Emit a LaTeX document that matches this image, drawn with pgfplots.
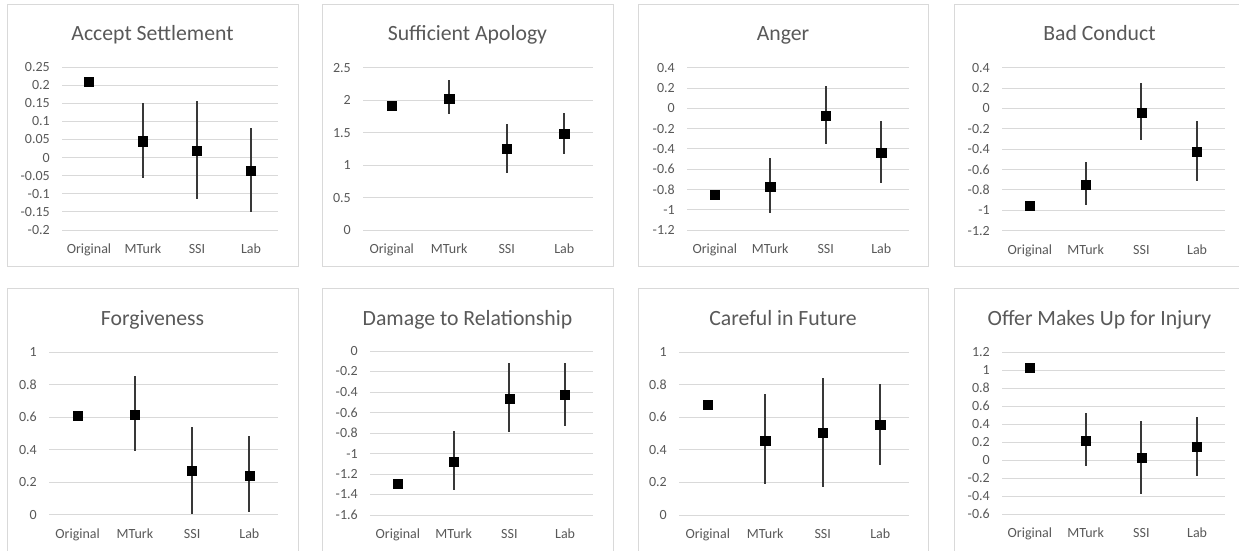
\documentclass[border=0pt]{standalone}
\usepackage{pgfplots}
\pgfplotsset{compat=1.18}
\usepackage{fontspec}
\setmainfont{Carlito}
\definecolor{txt}{HTML}{595959}
\definecolor{grd}{HTML}{D9D9D9}
\pgfplotsset{panel/.style={
  scale only axis, clip=false,
  xmin=-0.5, xmax=3.5,
  xtick={0,1,2,3}, xticklabels={Original,MTurk,SSI,Lab},
  axis line style={draw=none}, major tick length=0pt,
  ymajorgrids, grid style={grd, line width=0.75pt},
  tick label style={font=\fontsize{10.5}{12}\selectfont, text=txt},
  yticklabel style={anchor=east, inner sep=0pt, xshift=-9pt,
    /pgf/number format/fixed, /pgf/number format/precision=2,
    /pgf/number format/assume math mode=true},
  xticklabel style={anchor=north, inner sep=0pt, yshift=-10.5pt},
  anchor=south west,
},
pts/.style={only marks, mark=square*, mark size=3.4pt, black,
  error bars/.cd, y dir=both, y explicit, error mark=none,
  error bar style={line width=1.4pt, black!78}}
}
\newcommand{\ttl}[3]{\node[anchor=base, text=txt, font=\fontsize{16.3}{18}\selectfont] at (#1pt,#2pt) {#3};}
\begin{document}
\begin{tikzpicture}
\useasboundingbox (0,0) rectangle (929.25pt,-412.5pt);
\clip (0,0) rectangle (929.25pt,-412.5pt);
% panel frames
\foreach \a/\b in {5.25/223.5, 241.5/459.75, 478.5/696, 715.5/933.75}{
  \draw[grd, line width=0.75pt, fill=white] (\a pt,-3pt) rectangle (\b pt,-199.5pt);
  \draw[grd, line width=0.75pt, fill=white] (\a pt,-216pt) rectangle (\b pt,-414pt);
}
\ttl{114.4}{-30}{Accept Settlement}
\ttl{350.6}{-30}{Sufficient Apology}
\ttl{587.25}{-30}{Anger}
\ttl{824.6}{-30}{Bad Conduct}
\ttl{114.4}{-243.75}{Forgiveness}
\ttl{350.6}{-243.75}{Damage to Relationship}
\ttl{587.25}{-243.75}{Careful in Future}
\ttl{824.6}{-243.75}{Offer Makes Up for Injury}

% 1 Accept Settlement
\begin{axis}[panel, at={(46.5pt,-172.5pt)}, width=162pt, height=122.25pt,
  ymin=-0.2, ymax=0.25, ytick={-0.2,-0.15,-0.1,-0.05,0,0.05,0.1,0.15,0.2,0.25}]
\addplot[pts] coordinates {(0,0.209) (1,0.045) += (0,0.106) -= (0,0.101)
  (2,0.018) += (0,0.137) -= (0,0.133) (3,-0.036) += (0,0.118) -= (0,0.114)};
\end{axis}
% 2 Sufficient Apology
\begin{axis}[panel, at={(272.25pt,-172.5pt)}, width=172.5pt, height=121.7pt,
  ymin=0, ymax=2.5, ytick={0,0.5,1,1.5,2,2.5}]
\addplot[pts] coordinates {(0,1.915) (1,2.023) += (0,0.287) -= (0,0.243)
  (2,1.258) += (0,0.374) -= (0,0.375) (3,1.478) += (0,0.319) -= (0,0.308)};
\end{axis}
% 3 Anger
\begin{axis}[panel, at={(515.25pt,-172.5pt)}, width=166.5pt, height=121.7pt,
  ymin=-1.2, ymax=0.4, ytick={-1.2,-1,-0.8,-0.6,-0.4,-0.2,0,0.2,0.4}]
\addplot[pts] coordinates {(0,-0.854) (1,-0.772) += (0,0.285) -= (0,0.263)
  (2,-0.073) += (0,0.292) -= (0,0.279) (3,-0.434) += (0,0.312) -= (0,0.299)};
\end{axis}
% 4 Bad Conduct
\begin{axis}[panel, at={(751.5pt,-173pt)}, width=167.25pt, height=122.25pt,
  ymin=-1.2, ymax=0.4, ytick={-1.2,-1,-0.8,-0.6,-0.4,-0.2,0,0.2,0.4}]
\addplot[pts] coordinates {(0,-0.955) (1,-0.746) += (0,0.216) -= (0,0.203)
  (2,-0.042) += (0,0.295) -= (0,0.268) (3,-0.428) += (0,0.304) -= (0,0.285)};
\end{axis}
% 5 Forgiveness
\begin{axis}[panel, at={(36.75pt,-386pt)}, width=171.75pt, height=122pt,
  ymin=0, ymax=1, ytick={0,0.2,0.4,0.6,0.8,1}]
\addplot[pts] coordinates {(0,0.607) (1,0.617) += (0,0.235) -= (0,0.224)
  (2,0.268) += (0,0.273) -= (0,0.262) (3,0.242) += (0,0.240) -= (0,0.228)};
\end{axis}
% 6 Damage to Relationship
\begin{axis}[panel, at={(277.5pt,-386.25pt)}, width=167.25pt, height=123pt,
  ymin=-1.6, ymax=0, ytick={-1.6,-1.4,-1.2,-1,-0.8,-0.6,-0.4,-0.2,0}]
\addplot[pts] coordinates {(0,-1.291) (1,-1.08) += (0,0.300) -= (0,0.276)
  (2,-0.462) += (0,0.348) -= (0,0.331) (3,-0.429) += (0,0.315) -= (0,0.299)};
\end{axis}
% 7 Careful in Future
\begin{axis}[panel, at={(509.25pt,-386.25pt)}, width=172.5pt, height=122.25pt,
  ymin=0, ymax=1, ytick={0,0.2,0.4,0.6,0.8,1}]
\addplot[pts] coordinates {(0,0.679) (1,0.458) += (0,0.286) -= (0,0.270)
  (2,0.505) += (0,0.333) -= (0,0.331) (3,0.552) += (0,0.254) -= (0,0.247)};
\end{axis}
% 8 Offer Makes Up for Injury
\begin{axis}[panel, at={(751.5pt,-385.5pt)}, width=167.25pt, height=121.5pt,
  ymin=-0.6, ymax=1.2, ytick={-0.6,-0.4,-0.2,0,0.2,0.4,0.6,0.8,1,1.2}]
\addplot[pts] coordinates {(0,1.03) (1,0.215) += (0,0.311) -= (0,0.282)
  (2,0.022) += (0,0.415) -= (0,0.400) (3,0.148) += (0,0.333) -= (0,0.322)};
\end{axis}
\end{tikzpicture}
\end{document}
